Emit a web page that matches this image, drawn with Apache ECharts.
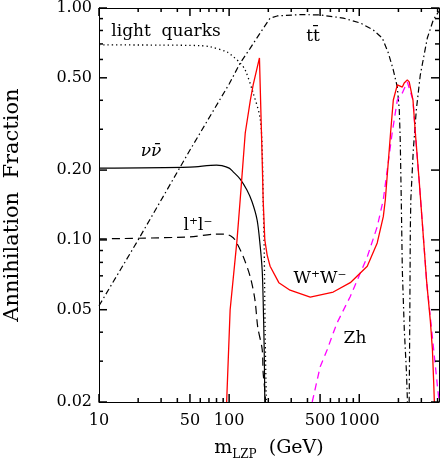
<!DOCTYPE html>
<html>
<head>
<meta charset="utf-8">
<script src="https://cdn.jsdelivr.net/npm/echarts@6/dist/echarts.min.js"></script>
<style>
  html, body { margin: 0; padding: 0; background: #fff; }
  #chart { width: 443px; height: 463px; }
</style>
</head>
<body>
<div id="chart"></div>
<script>
// values (mass in GeV, annihilation fraction)
const lightQuarksMass = [10, 30, 60, 71.5, 96.5, 110, 121.6, 133, 153, 173, 179.5, 182.6, 186, 189, 193];
const lightQuarksFrac = [0.693, 0.692, 0.688, 0.68, 0.646, 0.61, 0.579, 0.54, 0.43, 0.335, 0.244, 0.149, 0.0905, 0.041, 0.0204];

const ttbarMass = [10, 20, 50, 100, 121.6, 145, 173, 206.5, 234, 351, 501, 753, 1018, 1282, 1504, 1672, 1827, 1961, 2031, 2065, 2103, 2143, 2219, 2300, 2340, 2390, 2426, 2450, 2468, 2490, 2602, 2744, 2944, 3334, 3707, 4055, 4100];
const ttbarFrac = [0.052, 0.1, 0.244, 0.47, 0.579, 0.67, 0.78, 0.905, 0.924, 0.937, 0.933, 0.905, 0.862, 0.804, 0.742, 0.64, 0.54, 0.456, 0.363, 0.27, 0.149, 0.074, 0.041, 0.0276, 0.021, 0.01, 0.0242, 0.055, 0.11, 0.149, 0.244, 0.363, 0.514, 0.742, 0.888, 0.961, 0.965];

const nunuMass = [10, 50, 80, 88, 100, 107, 121.6, 137, 150, 164, 173, 179.5, 182.6, 186, 188];
const nunuFrac = [0.204, 0.206, 0.21, 0.209, 0.204, 0.197, 0.183, 0.164, 0.146, 0.122, 0.095, 0.074, 0.055, 0.0336, 0.02];

const llMass = [10, 50, 80, 93, 103, 111, 128, 145.6, 158, 166, 179.5, 182.6, 189, 191];
const llFrac = [0.101, 0.103, 0.106, 0.106, 0.104, 0.1, 0.085, 0.069, 0.055, 0.042, 0.0337, 0.0267, 0.0218, 0.019];

const wwMass = [95.7, 101.8, 115, 121.6, 133, 145.6, 153, 171, 179.5, 182.6, 188, 196, 206.5, 241, 294, 420, 631, 853, 1152, 1374, 1530, 1586, 1740, 1827, 1961, 2031, 2143, 2215, 2340, 2420, 2587, 2698, 2896, 3093, 3300, 3515, 3650, 3733, 3777];
const wwFrac = [0.02, 0.05, 0.1, 0.149, 0.289, 0.401, 0.466, 0.609, 0.221, 0.149, 0.1, 0.086, 0.077, 0.0654, 0.0607, 0.0567, 0.0596, 0.0654, 0.077, 0.097, 0.126, 0.149, 0.289, 0.401, 0.466, 0.475, 0.456, 0.475, 0.49, 0.48, 0.401, 0.289, 0.176, 0.107, 0.0654, 0.045, 0.0336, 0.0242, 0.02];

const zhMass = [435, 501, 568, 631, 677, 853, 1152, 1374, 1530, 1790, 1961, 2143, 2340, 2420, 2587, 2698, 2896, 3093, 3300, 3515, 3733, 3963, 4090];
const zhFrac = [0.02, 0.0284, 0.0337, 0.0397, 0.044, 0.057, 0.0845, 0.114, 0.149, 0.289, 0.401, 0.43, 0.48, 0.48, 0.401, 0.289, 0.176, 0.107, 0.0654, 0.0466, 0.0336, 0.0242, 0.0205];

// axis ticks and labels
const xLabels = [10, 50, 100, 500, 1000];
const xMinorTicks = [20, 30, 40, 60, 70, 80, 90, 200, 300, 400, 600, 700, 800, 900, 2000, 3000, 4000];
const yLabels = [0.02, 0.05, 0.1, 0.2, 0.5, 1];
const yMinorTicks = [0.03, 0.04, 0.06, 0.07, 0.08, 0.09, 0.3, 0.4, 0.6, 0.7, 0.8, 0.9];

const X_MIN = 10, X_MAX = 4100, Y_MIN = 0.02, Y_MAX = 1;
const MAJOR = 8, MINOR = 4, TICK_W = 1.5;
const FONT = '"DejaVu Serif", "Liberation Serif", serif';

function pairs(xs, ys) {
  return xs.map(function (x, i) { return [x, ys[i]]; });
}

// inward tick marks as thin rect symbols sitting on the frame
var tickData = [];
function addTick(x, y, len, vertical, sign) {
  tickData.push({
    value: [x, y],
    symbolSize: vertical ? [TICK_W, len] : [len, TICK_W],
    symbolOffset: vertical ? [0, sign * len / 2] : [sign * len / 2, 0]
  });
}
xLabels.forEach(function (v) { addTick(v, Y_MIN, MAJOR, true, -1); addTick(v, Y_MAX, MAJOR, true, 1); });
xMinorTicks.forEach(function (v) { addTick(v, Y_MIN, MINOR, true, -1); addTick(v, Y_MAX, MINOR, true, 1); });
yLabels.forEach(function (v) { addTick(X_MIN, v, MAJOR, false, 1); addTick(X_MAX, v, MAJOR, false, -1); });
yMinorTicks.forEach(function (v) { addTick(X_MIN, v, MINOR, false, 1); addTick(X_MAX, v, MINOR, false, -1); });

function frameAxis(position, isX, opts) {
  var a = {
    type: 'log',
    logBase: 10,
    position: position,
    min: isX ? X_MIN : Y_MIN,
    max: isX ? X_MAX : Y_MAX,
    axisLine: { show: true, onZero: false, lineStyle: { color: '#000', width: 1 } },
    axisTick: { show: false },
    axisLabel: { show: false },
    splitLine: { show: false },
    minorTick: { show: false },
    minorSplitLine: { show: false }
  };
  return Object.assign(a, opts || {});
}

function label(text, x, y, italic) {
  return {
    type: 'text', x: x, y: y, z: 20,
    style: { text: text, fill: '#000', font: (italic ? 'italic ' : '') + '17px ' + FONT, align: 'center', verticalAlign: 'middle' }
  };
}

const chart = echarts.init(document.getElementById('chart'));

const option = {
  animation: false,
  backgroundColor: '#fff',
  grid: { left: 99, right: 4, top: 8, bottom: 61, outerBoundsMode: 'none' },
  xAxis: [
    frameAxis('bottom', true, {
      axisLabel: {
        show: true, customValues: xLabels, margin: 11, hideOverlap: false,
        color: '#000', fontFamily: FONT, fontSize: 16,
        formatter: function (v) { return String(Math.round(v)); }
      },
      name: 'm{s|LZP}  (GeV)',
      nameLocation: 'middle',
      nameGap: 33,
      nameTextStyle: {
        color: '#000', fontFamily: FONT, fontSize: 19, lineHeight: 26,
        rich: { s: { fontFamily: FONT, fontSize: 12, verticalAlign: 'bottom', lineHeight: 14, color: '#000' } }
      }
    }),
    frameAxis('top', true)
  ],
  yAxis: [
    frameAxis('left', false, {
      axisLabel: {
        show: true, customValues: yLabels, margin: 7, hideOverlap: false,
        color: '#000', fontFamily: FONT, fontSize: 16,
        formatter: function (v) { return v.toFixed(2); }
      },
      name: 'Annihilation  Fraction',
      nameLocation: 'middle',
      nameGap: 76,
      nameTextStyle: { color: '#000', fontFamily: FONT, fontSize: 21 }
    }),
    frameAxis('right', false)
  ],
  series: [
    {
      name: 'light quarks', type: 'line', symbol: 'none', z: 3, smooth: 0.3,
      data: pairs(lightQuarksMass, lightQuarksFrac),
      lineStyle: { color: '#000', width: 1.3, type: [1.3, 3] }
    },
    {
      name: 'ttbar', type: 'line', symbol: 'none', z: 3,
      data: pairs(ttbarMass, ttbarFrac),
      lineStyle: { color: '#000', width: 1.2, type: [6, 3, 1.5, 3] }
    },
    {
      name: 'nunu', type: 'line', symbol: 'none', z: 3, smooth: 0.3,
      data: pairs(nunuMass, nunuFrac),
      lineStyle: { color: '#000', width: 1.2, type: 'solid' }
    },
    {
      name: 'll', type: 'line', symbol: 'none', z: 3, smooth: 0.3,
      data: pairs(llMass, llFrac),
      lineStyle: { color: '#000', width: 1.2, type: [8, 5] }
    },
    {
      name: 'Zh', type: 'line', symbol: 'none', z: 3,
      data: pairs(zhMass, zhFrac),
      lineStyle: { color: '#ff00ff', width: 1.3, type: [7, 5] }
    },
    {
      name: 'WW', type: 'line', symbol: 'none', z: 4,
      data: pairs(wwMass, wwFrac),
      lineStyle: { color: '#ff0000', width: 1.3, type: 'solid' }
    },
    {
      name: 'ticks', type: 'scatter', symbol: 'rect', clip: false, z: 10,
      data: tickData,
      itemStyle: { color: '#000', opacity: 1 },
      emphasis: { disabled: true }
    }
  ],
  graphic: [
    label('light  quarks', 166, 32),
    label('tt\u0304', 313, 37),
    label('\u03bd\u03bd\u0304', 151, 152, true),
    label('l\u207al\u207b', 198, 226),
    label('W\u207aW\u207b', 320, 279),
    label('Zh', 355, 339)
  ]
};

chart.setOption(option);
</script>
</body>
</html>
